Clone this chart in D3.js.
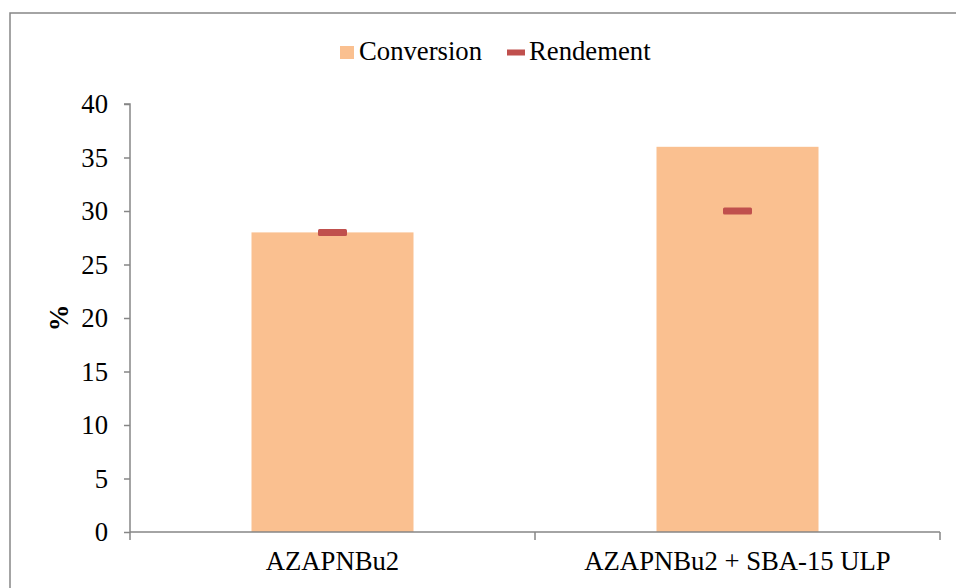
<!DOCTYPE html>
<html><head><meta charset="utf-8">
<script src="https://cdn.jsdelivr.net/npm/d3@7"></script>
<style>body{margin:0;background:#fff}svg{display:block}text{font-family:"Liberation Serif","Times New Roman",serif;fill:#000}</style>
</head><body>
<svg id="c" width="956" height="588"></svg>
<script>
const categories = ["AZAPNBu2", "AZAPNBu2 + SBA-15 ULP"];
const conversion = [28, 36];
const rendement = [28, 30];
const yTicks = [0, 5, 10, 15, 20, 25, 30, 35, 40];

const svg = d3.select("#c");
const m = {l: 130, r: 940, t: 104, b: 532};
const fs = 26.7;
const grey = "#868686";

svg.append("rect").attr("x", 10).attr("y", 13).attr("width", 960).attr("height", 600)
  .attr("fill", "none").attr("stroke", grey).attr("stroke-width", 1.5);

const x = d3.scaleBand().domain(categories).range([m.l, m.r]).paddingInner(0.6).paddingOuter(0.3);
const xb = d3.scaleBand().domain(categories).range([m.l, m.r]);
const y = d3.scaleLinear().domain([0, 40]).range([m.b, m.t]);

// bars
svg.selectAll("rect.bar").data(categories).enter().append("rect")
  .attr("x", d => x(d)).attr("width", x.bandwidth())
  .attr("y", (d, i) => y(conversion[i])).attr("height", (d, i) => y(0) - y(conversion[i]))
  .attr("fill", "#FAC090");

// markers
const mw = 29;
svg.selectAll("rect.mk").data(categories).enter().append("rect")
  .attr("x", d => xb(d) + xb.bandwidth() / 2 - mw / 2).attr("width", mw)
  .attr("y", (d, i) => y(rendement[i]) - 3.5).attr("height", 7).attr("rx", 1.5)
  .attr("fill", "#C0504D");

// y axis
const ya = svg.append("g").attr("transform", `translate(${m.l},0)`)
  .call(d3.axisLeft(y).tickValues(yTicks).tickSize(6).tickPadding(16).tickFormat(d3.format("d")));
ya.select(".domain").attr("stroke", grey).attr("stroke-width", 1.5).attr("d", `M-6,${m.t}H0V${m.b}`);
ya.selectAll(".tick line").attr("stroke", grey).attr("stroke-width", 1.5);
ya.selectAll(".tick text").attr("font-size", fs).attr("font-family", "Liberation Serif").attr("fill", "#000").attr("dy", "0.33em");

// x axis
const xa = svg.append("g");
xa.append("line").attr("x1", m.l).attr("x2", m.r).attr("y1", m.b).attr("y2", m.b).attr("stroke", grey).attr("stroke-width", 1.5);
const xt = [m.l, ...categories.slice(1).map(d => xb(d)), m.r];
xa.selectAll("line.t").data(xt).enter().append("line")
  .attr("x1", d => d).attr("x2", d => d).attr("y1", m.b).attr("y2", m.b + 8)
  .attr("stroke", grey).attr("stroke-width", 1.5);
xa.selectAll("text").data(categories).enter().append("text")
  .attr("x", d => xb(d) + xb.bandwidth() / 2).attr("y", 570)
  .attr("text-anchor", "middle").attr("font-size", fs).text(d => d);

// y title
svg.append("text").attr("transform", "translate(68,318) rotate(-90)")
  .attr("text-anchor", "middle").attr("font-size", fs).attr("font-weight", "bold").text("%");

// legend
const lg = svg.append("g");
lg.append("rect").attr("x", 340).attr("y", 46).attr("width", 14).attr("height", 13).attr("fill", "#FAC090");
lg.append("text").attr("x", 359).attr("y", 60).attr("font-size", fs).text("Conversion");
lg.append("rect").attr("x", 507).attr("y", 49.5).attr("width", 18).attr("height", 6).attr("fill", "#C0504D");
lg.append("text").attr("x", 529).attr("y", 60).attr("font-size", fs).text("Rendement");
</script>
</body></html>
